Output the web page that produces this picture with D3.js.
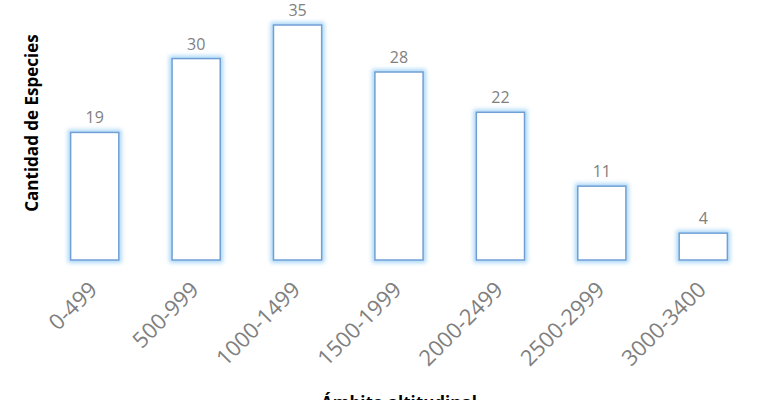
<!DOCTYPE html>
<html><head><meta charset="utf-8">
<script src="https://cdn.jsdelivr.net/npm/d3@7"></script>
<style>body{margin:0;background:#fff}svg{display:block}</style>
</head><body>
<svg id="chart" width="768" height="400"></svg>
<script>
const categories = ["0-499","500-999","1000-1499","1500-1999","2000-2499","2500-2999","3000-3400"];
const values = [19,30,35,28,22,11,4];
const yTitle = "Cantidad de Especies";
const xTitle = "Ámbito altitudinal";

const svg = d3.select("#chart");
const plot = {left:44, right:754, top:25, bottom:260};

const defs = svg.append("defs");
const f = defs.append("filter").attr("id","glow").attr("x","-30%").attr("y","-30%").attr("width","160%").attr("height","160%");
f.append("feMorphology").attr("in","SourceAlpha").attr("operator","dilate").attr("radius",1.5).attr("result","d");
f.append("feGaussianBlur").attr("in","d").attr("stdDeviation",2.2).attr("result","b");
f.append("feFlood").attr("flood-color","#a8d6f7").attr("result","c");
f.append("feComposite").attr("in","c").attr("in2","b").attr("operator","in").attr("result","g");
const m = f.append("feMerge");
m.append("feMergeNode").attr("in","g");
m.append("feMergeNode").attr("in","SourceGraphic");

const x = d3.scaleBand().domain(categories).range([plot.left, plot.right]).paddingInner(0.525).paddingOuter(0.2625);
const y = d3.scaleLinear().domain([0, 35]).range([plot.bottom, plot.top]);

const g = svg.append("g");
g.selectAll("rect.bar").data(values).join("rect")
  .attr("class","bar")
  .attr("x",(d,i)=>x(categories[i]))
  .attr("y",d=>y(d))
  .attr("width",x.bandwidth())
  .attr("height",d=>y(0)-y(d))
  .attr("fill","#ffffff")
  .attr("stroke","#6f9fd6")
  .attr("stroke-width",1.5)
  .attr("filter","url(#glow)");

g.selectAll("text.val").data(values).join("text")
  .attr("class","val")
  .attr("x",(d,i)=>x(categories[i])+x.bandwidth()/2)
  .attr("y",d=>y(d)-9)
  .attr("text-anchor","middle")
  .attr("font-family","Open Sans, sans-serif")
  .attr("font-size",16)
  .attr("fill","#7f7f7f")
  .text(d=>d);

const xAxis = d3.axisBottom(x).tickSize(0).tickPadding(0);
const ax = svg.append("g").attr("transform",`translate(0,${plot.bottom})`).call(xAxis);
ax.select(".domain").remove();
ax.selectAll("text")
  .attr("font-family","Open Sans, sans-serif")
  .attr("font-size",22)
  .attr("fill","#7f7f7f")
  .attr("text-anchor","end")
  .attr("dy",null).attr("y",0)
  .attr("transform","translate(4,31) rotate(-45)");

svg.append("text")
  .attr("transform","translate(38,123) rotate(-90)")
  .attr("text-anchor","middle")
  .attr("font-family","Open Sans, sans-serif")
  .attr("font-weight","bold")
  .attr("font-size",17)
  .attr("fill","#000")
  .text(yTitle);

svg.append("text")
  .attr("x",399).attr("y",409)
  .attr("text-anchor","middle")
  .attr("font-family","Open Sans, sans-serif")
  .attr("font-weight","bold")
  .attr("font-size",17)
  .attr("fill","#000")
  .text(xTitle);
</script>
</body></html>
